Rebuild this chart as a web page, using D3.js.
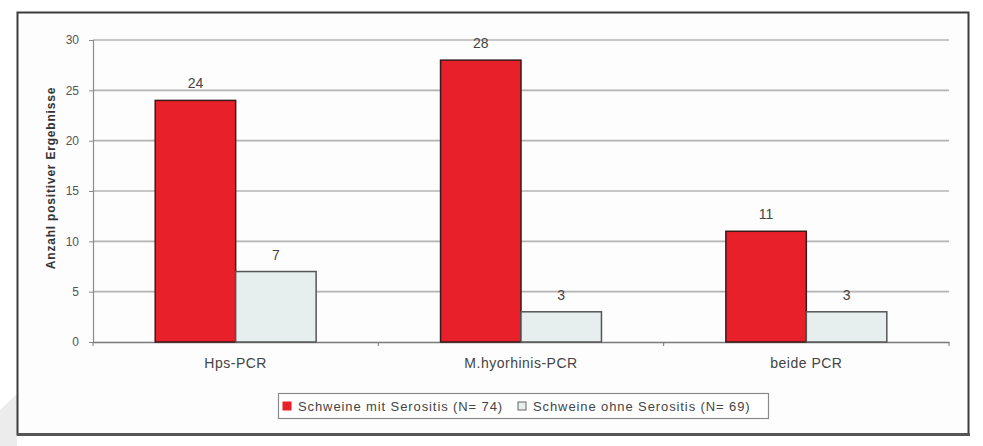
<!DOCTYPE html>
<html>
<head>
<meta charset="utf-8">
<script src="https://cdn.jsdelivr.net/npm/d3@7"></script>
<style>
  html, body { margin: 0; padding: 0; background: #fff; }
  svg { display: block; font-family: "Liberation Sans", Arial, sans-serif; }
</style>
</head>
<body>
<svg id="chart" width="983" height="446"></svg>
<script>
// PCR results per group
const categories = ["Hps-PCR", "M.hyorhinis-PCR", "beide PCR"];
const seriesNames = ["Schweine mit Serositis (N= 74)", "Schweine ohne Serositis (N= 69)"];
const withSerositis = [24, 28, 11];
const withoutSerositis = [7, 3, 3];
const yTicks = [0, 5, 10, 15, 20, 25, 30];
const yTitle = "Anzahl positiver Ergebnisse";

const series = [
  { name: seriesNames[0], values: withSerositis, fill: "#e8202a", stroke: "#3a1a1a" },
  { name: seriesNames[1], values: withoutSerositis, fill: "#e6eeee", stroke: "#555" }
];

const svg = d3.select("#chart");
const plot = { left: 93, right: 949, top: 40, bottom: 342 };

// faint grey backdrop shape at lower left
svg.append("path")
  .attr("d", "M0,410 L17,394 L17,446 L0,446 Z")
  .attr("fill", "#ececec");

// outer frame
svg.append("rect")
  .attr("x", 17.5).attr("y", 12.5)
  .attr("width", 951).attr("height", 422)
  .attr("fill", "#fdfdfd")
  .attr("stroke", "#3c3c3c").attr("stroke-width", 2);
svg.append("line")
  .attr("x1", 17).attr("x2", 970).attr("y1", 434.5).attr("y2", 434.5)
  .attr("stroke", "#555").attr("stroke-width", 3);

const x0 = d3.scaleBand()
  .domain(categories)
  .range([plot.left, plot.right])
  .paddingInner(0.436)
  .paddingOuter(0.218);
const x1 = d3.scaleBand()
  .domain(series.map((s, i) => i))
  .range([0, x0.bandwidth()]);
const y = d3.scaleLinear().domain([0, 30]).range([plot.bottom, plot.top]);

// horizontal gridlines
svg.append("g")
  .selectAll("line")
  .data(yTicks.filter(t => t > 0))
  .join("line")
  .attr("x1", plot.left).attr("x2", plot.right)
  .attr("y1", d => y(d)).attr("y2", d => y(d))
  .attr("stroke", "#b4b4b4").attr("stroke-width", 1.7);

// y axis
const yAxis = svg.append("g")
  .attr("transform", `translate(${plot.left},0)`)
  .call(d3.axisLeft(y).tickValues(yTicks).tickSize(4).tickPadding(10));
yAxis.select(".domain").attr("stroke", "#8a8a8a").attr("stroke-width", 1.2);
yAxis.selectAll(".tick line").attr("stroke", "#8a8a8a");
yAxis.selectAll(".tick text")
  .attr("fill", "#555").style("font-size", "12px")
  .style("font-family", "\"Liberation Sans\", Arial, sans-serif");

// x axis with category boundary ticks
const xAxis = svg.append("g")
  .attr("transform", `translate(0,${plot.bottom})`)
  .call(d3.axisBottom(x0).tickSize(0).tickPadding(16));
xAxis.select(".domain").attr("stroke", "#7a7a7a").attr("stroke-width", 1.4);
xAxis.selectAll(".tick text")
  .attr("fill", "#444").style("font-size", "14px")
  .style("letter-spacing", "0.5px")
  .style("font-family", "\"Liberation Sans\", Arial, sans-serif");
const step = x0.step();
svg.append("g")
  .selectAll("line")
  .data(d3.range(categories.length + 1))
  .join("line")
  .attr("x1", i => plot.left + i * step).attr("x2", i => plot.left + i * step)
  .attr("y1", plot.bottom).attr("y2", plot.bottom + 4)
  .attr("stroke", "#7a7a7a");

// bars
const groups = svg.append("g")
  .selectAll("g")
  .data(categories)
  .join("g")
  .attr("transform", d => `translate(${x0(d)},0)`);

groups.selectAll("rect")
  .data((c, ci) => series.map((s, si) => ({ si, v: s.values[ci], s })))
  .join("rect")
  .attr("x", d => x1(d.si))
  .attr("y", d => y(d.v))
  .attr("width", x1.bandwidth())
  .attr("height", d => y(0) - y(d.v))
  .attr("fill", d => d.s.fill)
  .attr("stroke", d => d.s.stroke)
  .attr("stroke-width", 1.5);

groups.selectAll("text.val")
  .data((c, ci) => series.map((s, si) => ({ si, v: s.values[ci] })))
  .join("text")
  .attr("class", "val")
  .attr("x", d => x1(d.si) + x1.bandwidth() / 2)
  .attr("y", d => y(d.v) - 12)
  .attr("text-anchor", "middle")
  .attr("fill", "#444")
  .style("font-size", "14px")
  .text(d => d.v);

// y axis title
svg.append("text")
  .attr("transform", `translate(55,${(plot.top + plot.bottom) / 2 - 13}) rotate(-90)`)
  .attr("text-anchor", "middle")
  .attr("fill", "#333")
  .style("font-size", "12px")
  .style("font-weight", "bold")
  .style("letter-spacing", "0.8px")
  .text(yTitle);

// legend
const legend = svg.append("g");
legend.append("rect")
  .attr("x", 278.5).attr("y", 393.5).attr("width", 490).attr("height", 25)
  .attr("fill", "#fff").attr("stroke", "#8a8a8a").attr("stroke-width", 1.2);
const legendX = [283, 518];
series.forEach((s, i) => {
  legend.append("rect")
    .attr("x", legendX[i]).attr("y", 402).attr("width", 8).attr("height", 8)
    .attr("fill", s.fill).attr("stroke", i === 0 ? s.fill : "#666");
  legend.append("text")
    .attr("x", legendX[i] + 15).attr("y", 410.5)
    .attr("fill", "#444")
    .style("font-size", "13px")
    .style("letter-spacing", "0.9px")
    .text(s.name);
});
</script>
</body>
</html>
